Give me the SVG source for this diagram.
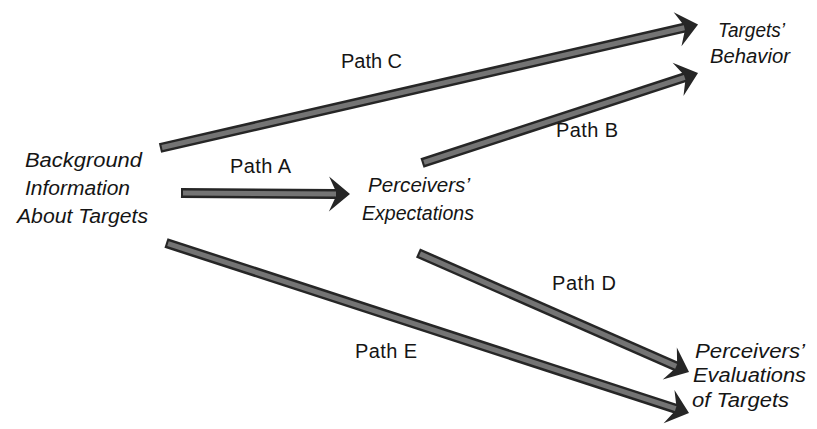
<svg xmlns="http://www.w3.org/2000/svg" width="817" height="429" viewBox="0 0 817 429">
<style>
.node{font-family:"Liberation Sans",Arial,sans-serif;font-style:italic;font-size:20px;fill:#151515}
.lbl{font-family:"Liberation Sans",Arial,sans-serif;font-size:20px;fill:#151515}
.sh-out{stroke:#262626;stroke-width:10;fill:none}
.sh-in{stroke:#747474;stroke-width:5;fill:none;marker-end:none}
</style>
<defs>
<marker id="head" markerUnits="userSpaceOnUse" markerWidth="44" markerHeight="44" viewBox="-22 -22 44 44" refX="0" refY="0" orient="auto">
<path d="M14,0 L-7,-17.5 L-1,-4.5 L-1,4.5 L-7,17.5 Z" fill="#262626"/>
</marker>
</defs>
<rect width="817" height="429" fill="#ffffff"/>
<g id="connectors">
<g id="pathA"><path class="sh-out" d="M181,193 L336,194" marker-end="url(#head)"/><path class="sh-in" d="M183,193 L336,194"/></g>
<g id="pathC"><path class="sh-out" d="M160,148 L684.4,27.7" marker-end="url(#head)"/><path class="sh-in" d="M162,147.5 L684.4,27.7"/></g>
<g id="pathB"><path class="sh-out" d="M422,163 L684.7,77.3" marker-end="url(#head)"/><path class="sh-in" d="M424,162.4 L684.7,77.3"/></g>
<g id="pathD"><path class="sh-out" d="M418,253 L676.2,366.4" marker-end="url(#head)"/><path class="sh-in" d="M420,253.9 L676.2,366.4"/></g>
<g id="pathE"><path class="sh-out" d="M166,243 L675.7,408.7" marker-end="url(#head)"/><path class="sh-in" d="M168,243.6 L675.7,408.7"/></g>
<text class="lbl" x="230" y="173" textLength="61">Path A</text>
<text class="lbl" x="341" y="68" textLength="61">Path C</text>
<text class="lbl" x="556" y="137" textLength="62">Path B</text>
<text class="lbl" x="552" y="290" textLength="64">Path D</text>
<text class="lbl" x="355" y="358" textLength="62">Path E</text>
</g>
<g id="background">
<text class="node" x="25" y="167" textLength="117" lengthAdjust="spacingAndGlyphs">Background</text>
<text class="node" x="25" y="195" textLength="105" lengthAdjust="spacingAndGlyphs">Information</text>
<text class="node" x="17" y="223" textLength="131" lengthAdjust="spacingAndGlyphs">About Targets</text>
</g>
<g id="expectations">
<text class="node" x="368" y="192" textLength="102" lengthAdjust="spacingAndGlyphs">Perceivers’</text>
<text class="node" x="362" y="220" textLength="112" lengthAdjust="spacingAndGlyphs">Expectations</text>
</g>
<g id="behavior">
<text class="node" x="718" y="37" textLength="67" lengthAdjust="spacingAndGlyphs">Targets’</text>
<text class="node" x="710" y="63" textLength="80" lengthAdjust="spacingAndGlyphs">Behavior</text>
</g>
<g id="evaluations">
<text class="node" x="695" y="358" textLength="110" lengthAdjust="spacingAndGlyphs">Perceivers’</text>
<text class="node" x="693" y="382" textLength="113" lengthAdjust="spacingAndGlyphs">Evaluations</text>
<text class="node" x="692" y="407" textLength="97" lengthAdjust="spacingAndGlyphs">of Targets</text>
</g>
</svg>
